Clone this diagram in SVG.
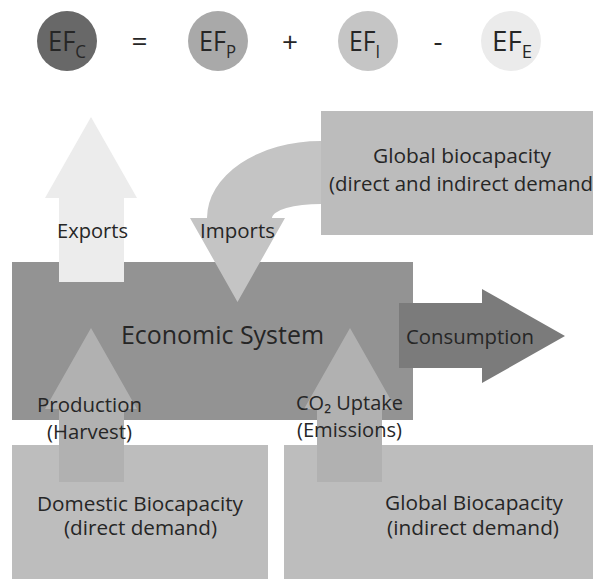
<svg xmlns="http://www.w3.org/2000/svg" width="593" height="579" viewBox="0 0 593 579">
  <style>
    text { font-family: "Open Sans", "Noto Sans", "DejaVu Sans", sans-serif; fill: #262626; }
    .ef { font-size: 27px; }
    .sub { font-size: 18px; }
    .op { font-size: 28px; text-anchor: middle; }
    .lbl { font-size: 20.5px; }
    .big { font-size: 26px; }
    .mid { text-anchor: middle; }
  </style>

  <!-- Equation row: EF_C = EF_P + EF_I - EF_E -->
  <g id="equation">
    <g id="ef-c">
      <circle cx="67" cy="41" r="30" fill="#686868"/>
      <text class="ef" x="48" y="51" textLength="38" lengthAdjust="spacingAndGlyphs">EF<tspan class="sub" dy="7">C</tspan></text>
    </g>
    <text class="op" x="139.5" y="51">=</text>
    <g id="ef-p">
      <circle cx="218" cy="41" r="30" fill="#a9a9a9"/>
      <text class="ef" x="199" y="51" textLength="37" lengthAdjust="spacingAndGlyphs">EF<tspan class="sub" dy="7">P</tspan></text>
    </g>
    <text class="op" x="290" y="52">+</text>
    <g id="ef-i">
      <circle cx="368" cy="41" r="30" fill="#c5c5c5"/>
      <text class="ef" x="349" y="51" textLength="31" lengthAdjust="spacingAndGlyphs">EF<tspan class="sub" dy="7">I</tspan></text>
    </g>
    <text class="op" x="438" y="51">-</text>
    <g id="ef-e">
      <circle cx="511" cy="41" r="30" fill="#ebebeb"/>
      <text class="ef" x="492" y="51" textLength="40" lengthAdjust="spacingAndGlyphs">EF<tspan class="sub" dy="7">E</tspan></text>
    </g>
  </g>

  <!-- Nodes -->
  <g id="global-biocapacity-top">
    <rect x="321" y="111" width="280" height="124" fill="#bcbcbc"/>
    <text class="lbl mid" x="462" y="163" textLength="178" lengthAdjust="spacingAndGlyphs">Global biocapacity</text>
    <text class="lbl" x="329" y="190.5" textLength="270" lengthAdjust="spacingAndGlyphs">(direct and indirect demand)</text>
  </g>

  <g id="economic-system">
    <rect x="12" y="262" width="401" height="158" fill="#939393"/>
    <text class="big" x="121" y="343.5" textLength="203" lengthAdjust="spacingAndGlyphs">Economic System</text>
  </g>

  <g id="domestic-biocapacity">
    <rect x="12" y="445" width="256" height="140" fill="#bdbdbd"/>
    <text class="lbl" x="37" y="511" textLength="206" lengthAdjust="spacingAndGlyphs">Domestic Biocapacity</text>
    <text class="lbl" x="64" y="535" textLength="153" lengthAdjust="spacingAndGlyphs">(direct demand)</text>
  </g>

  <g id="global-biocapacity-bottom">
    <rect x="284" y="445" width="315" height="140" fill="#bdbdbd"/>
    <text class="lbl" x="385" y="510" textLength="178" lengthAdjust="spacingAndGlyphs">Global Biocapacity</text>
    <text class="lbl" x="387" y="535" textLength="172" lengthAdjust="spacingAndGlyphs">(indirect demand)</text>
  </g>

  <!-- Connectors: block arrows and their labels -->
  <g id="connectors">
    <g id="exports">
      <path d="M59,282 V198 H45 L91,117 L137,198 H124 V282 Z" fill="#ececec"/>
      <text class="lbl" x="57" y="238" textLength="71" lengthAdjust="spacingAndGlyphs">Exports</text>
    </g>
    <g id="imports">
      <path d="M321,141 A114,77 0 0 0 207,218 H190 L237.5,302 L285,218 H272 A49,14 0 0 1 321,204 Z" fill="#c4c4c4"/>
      <text class="lbl" x="200" y="238" textLength="75" lengthAdjust="spacingAndGlyphs">Imports</text>
    </g>
    <g id="production">
      <path d="M59,482 V409 H45 L91,328 L137,409 H124 V482 Z" fill="#b1b1b1"/>
      <text class="lbl" x="37" y="411.5" textLength="105" lengthAdjust="spacingAndGlyphs">Production</text>
      <text class="lbl" x="47" y="439" textLength="85" lengthAdjust="spacingAndGlyphs">(Harvest)</text>
    </g>
    <g id="co2-uptake">
      <path d="M317,482 V409 H304 L350,328 L396,409 H382 V482 Z" fill="#b1b1b1"/>
      <text class="lbl" x="296" y="410" textLength="107" lengthAdjust="spacingAndGlyphs">CO₂ Uptake</text>
      <text class="lbl" x="297" y="437" textLength="105" lengthAdjust="spacingAndGlyphs">(Emissions)</text>
    </g>
    <g id="consumption">
      <path d="M399,303 H482 V289 L565,336 L482,383 V368 H399 Z" fill="#7b7b7b"/>
      <text class="lbl" x="406" y="344" textLength="128" lengthAdjust="spacingAndGlyphs">Consumption</text>
    </g>
  </g>
</svg>
